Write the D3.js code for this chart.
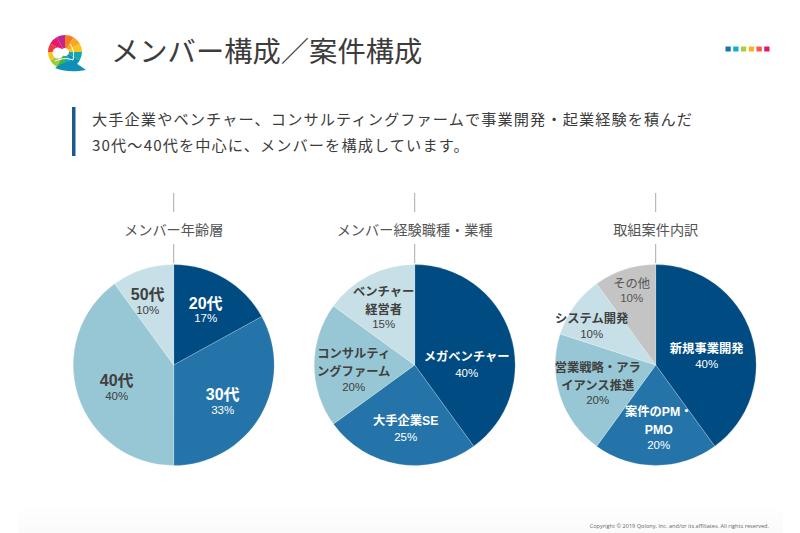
<!DOCTYPE html>
<html>
<head>
<meta charset="utf-8">
<script src="https://cdn.jsdelivr.net/npm/d3@7"></script>
<style>
  html, body { margin: 0; padding: 0; background: #fff; }
  text { font-family: "Liberation Sans", "Noto Sans CJK JP", sans-serif; }
  .jp { font-family: "Noto Sans CJK JP", sans-serif; }
</style>
</head>
<body>
<div id="chart"></div>
<script>
// data
var ageNames = [["20代"], ["30代"], ["40代"], ["50代"]];
var ageValues = [17, 33, 40, 10];
var expNames = [["メガベンチャー"], ["大手企業SE"], ["コンサルティ", "ングファーム"], ["ベンチャー", "経営者"]];
var expValues = [40, 25, 20, 15];
var workNames = [["新規事業開発"], ["案件のPM・", "PMO"], ["営業戦略・アラ", "イアンス推進"], ["システム開発"], ["その他"]];
var workValues = [40, 20, 20, 10, 10];

var pieColors = ["#004b82", "#2574a9", "#97c7d4", "#c7e0e8", "#c4c4c4"];
var inkColors = ["#fff", "#fff", "#404040", "#404040", "#555"];

// label placement, relative to pie centre: [x, y of first line, y of percent]
var ageLabelPos = [[32, -62, -47], [49, 29, 45], [-57, 15, 31], [-26, -71, -55]];
var expLabelPos = [[52, -8, 8], [-9, 56, 72], [-61, -11, 22], [-31, -73, -41]];
var workLabelPos = [[51, -16, -1], [3, 47, 80], [-58, 3, 35], [-64, -46, -31], [-24, -81, -67]];

var logoColors = ["#f47b20", "#f6a623", "#f9c51a", "#12a7b5", "#0f8fb8", "#12a7b5", "#3fb54a", "#9ccb3b", "#f9c51a", "#ee3a43", "#e6186d", "#c2258f"];
var stripColors = ["#1a75ad", "#12aecb", "#a8cf3c", "#fdb022", "#f4594a", "#ec1263"];

var svgWidth = 800;
var svgHeight = 533;
var radius = 100.5;
var pieY = 365;
var lineStep = 18;

var svg = d3.select("#chart").append("svg")
  .attr("width", svgWidth)
  .attr("height", svgHeight)
  .style("display", "block");

// faint footer band
var defs = svg.append("defs");
var grad = defs.append("linearGradient").attr("id", "foot")
  .attr("x1", 0).attr("x2", 0).attr("y1", 0).attr("y2", 1);
grad.append("stop").attr("offset", 0).attr("stop-color", "#fff");
grad.append("stop").attr("offset", 1).attr("stop-color", "#fafafa");
svg.append("rect").attr("x", 18).attr("y", 505).attr("width", 765).attr("height", 28)
  .attr("fill", "url(#foot)");

// logo
var logo = svg.append("g").attr("transform", "translate(65,52)");
var logoPie = d3.pie().value(1).sort(null);
var logoArc = d3.arc().innerRadius(4).outerRadius(17);
logo.selectAll("path.wedge").data(logoPie(logoColors)).enter()
  .append("path")
  .attr("class", "wedge")
  .attr("d", logoArc)
  .attr("fill", d => d.data);
logo.append("circle").attr("cx", -7).attr("cy", 1).attr("r", 5.5).attr("fill", "#fff");
logo.append("path")
  .attr("d", "M-10,16 C-3,11 3,9 8,9 L21,18 C10,20 0,20 -10,16 Z")
  .attr("fill", "#0f8fb8");
logo.append("path")
  .attr("d", "M-10,9 C-3,6 3,6 8,8 M5,-8 C9,-3 9,3 8,8")
  .attr("fill", "none")
  .attr("stroke", "#fff")
  .attr("stroke-width", 1);

// title
svg.append("text")
  .attr("class", "jp")
  .attr("x", 111)
  .attr("y", 62)
  .attr("font-size", 28.3)
  .attr("fill", "#3c3c3c")
  .text("メンバー構成／案件構成");

// colour strip
var stripX = d3.scaleBand().domain(d3.range(stripColors.length)).range([725.5, 769.5]).paddingInner(0.32);
svg.selectAll("rect.strip").data(stripColors).enter()
  .append("rect")
  .attr("class", "strip")
  .attr("x", (d, i) => stripX(i))
  .attr("y", 46.5)
  .attr("width", stripX.bandwidth())
  .attr("height", 5)
  .attr("fill", d => d);

// lead text
svg.append("rect").attr("x", 72).attr("y", 107).attr("width", 3.5).attr("height", 49).attr("fill", "#1c5a8e");
var lead = ["大手企業やベンチャー、コンサルティングファームで事業開発・起業経験を積んだ", "30代～40代を中心に、メンバーを構成しています。"];
svg.selectAll("text.lead").data(lead).enter()
  .append("text")
  .attr("class", "lead jp")
  .attr("x", 92)
  .attr("y", (d, i) => 125 + i * 26)
  .attr("font-size", 15.2)
  .attr("letter-spacing", 1.1)
  .attr("fill", "#3c3c3c")
  .text(d => d);

// footer
svg.append("text")
  .attr("x", 769)
  .attr("y", 528)
  .attr("text-anchor", "end")
  .style("font-family", "'Open Sans', sans-serif")
  .attr("font-size", 5.6)
  .attr("fill", "#666")
  .text("Copyright © 2019 Qolony, Inc. and/or its affiliates. All rights reserved.");

var pie = d3.pie().value(d => d.value).sort(null);
var arc = d3.arc().innerRadius(0).outerRadius(radius);

function drawPie(cx, title, names, values, labelPos, nameSize) {
  var g = svg.append("g").attr("transform", `translate(${cx}, ${pieY})`);
  var rows = values.map((v, i) => ({ value: v, lines: names[i], pos: labelPos[i], i: i }));

  // leader lines above and below the title
  [[-172, -153], [-121, -102]].forEach(function (l) {
    g.append("line")
      .attr("x1", 0).attr("x2", 0)
      .attr("y1", l[0]).attr("y2", l[1])
      .attr("stroke", "#a9a9a9")
      .attr("stroke-width", 1);
  });

  g.append("text")
    .attr("class", "jp")
    .attr("x", 0)
    .attr("y", -130.5)
    .attr("text-anchor", "middle")
    .attr("font-size", 14.2)
    .attr("fill", "#555")
    .text(title);

  g.selectAll("path.slice").data(pie(rows)).enter()
    .append("path")
    .attr("class", "slice")
    .attr("d", arc)
    .attr("fill", d => pieColors[d.data.i])
    .attr("stroke", "#fff")
    .attr("stroke-width", 0.2);

  rows.forEach(function (r) {
    var ink = inkColors[r.i];
    r.lines.forEach(function (line, k) {
      g.append("text")
        .attr("x", r.pos[0])
        .attr("y", r.pos[1] + k * lineStep)
        .attr("dy", "0.36em")
        .attr("text-anchor", "middle")
        .attr("font-size", nameSize)
        .attr("font-weight", r.i == 4 ? 400 : 700)
        .attr("fill", ink)
        .text(line);
    });
    g.append("text")
      .attr("x", r.pos[0])
      .attr("y", r.pos[2])
      .attr("dy", "0.36em")
      .attr("text-anchor", "middle")
      .attr("font-size", 11.5)
      .attr("fill", ink)
      .text(r.value + "%");
  });
}

drawPie(173.7, "メンバー年齢層", ageNames, ageValues, ageLabelPos, 16);
drawPie(414.7, "メンバー経験職種・業種", expNames, expValues, expLabelPos, 12.3);
drawPie(655.7, "取組案件内訳", workNames, workValues, workLabelPos, 12.3);
</script>
</body>
</html>
